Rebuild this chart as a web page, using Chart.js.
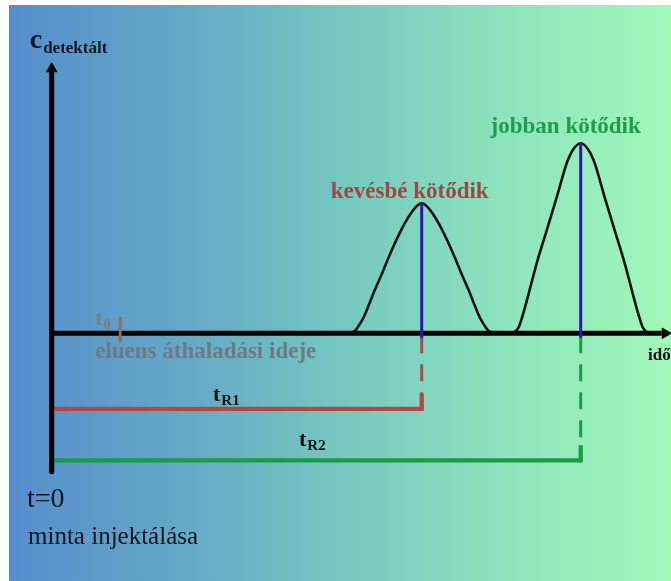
<!DOCTYPE html>
<html>
<head>
<meta charset="utf-8">
<script src="https://cdn.jsdelivr.net/npm/chart.js@4.4.1/dist/chart.umd.min.js"></script>
<style>
  html, body { margin: 0; padding: 0; background: #fff; overflow: hidden; }
  #wrap { position: relative; width: 671px; height: 581px; }
</style>
</head>
<body>
<div id="wrap"><canvas id="kromatogram"></canvas></div>
<script>
// --- adatok ---
const retentionTimes = [7.4, 10.58];     // tR1, tR2
const peakHeights = [2.6, 3.8];
const deadTime = 1.37;                   // t0

// csúcsok: távolság a csúcs közepétől és a jel magassága
const peak1Offsets = [0, 0.14, 0.34, 0.5, 0.66, 0.8, 0.94, 1.06, 1.16, 1.28, 1.36, 1.56];
const peak1Values  = [2.6, 2.5, 2.2, 1.88, 1.52, 1.18, 0.86, 0.56, 0.32, 0.12, 0.03, 0];
const peak2Offsets = [0, 0.16, 0.28, 0.4, 0.48, 0.68, 0.88, 1.06, 1.16, 1.24, 1.32, 1.5];
const peak2Values  = [3.8, 3.66, 3.4, 3.0, 2.72, 2.06, 1.4, 0.72, 0.36, 0.12, 0.03, 0];

const peakLabels = ['kevésbé kötődik', 'jobban kötődik'];
const retentionLabels = ['R1', 'R2'];

// szintek a tengely alatti "zárójelekhez"
const bracketLevels = [-1.51, -2.54];

const RED = 'rgb(178,72,70)';
const GREEN = 'rgb(24,158,66)';
const BLUE = 'rgb(50,22,170)';

// szimmetrikus csúcs pontjai a középpont körül
function peakPoints(center, offsets, values) {
    const left = offsets.map((o, i) => ({ x: center - o, y: values[i] })).reverse();
    const right = offsets.slice(1).map((o, i) => ({ x: center + o, y: values[i + 1] }));
    return left.concat(right);
}

function lineSet(data, color, width, order, extra) {
    return Object.assign({
        data: data,
        borderColor: color,
        borderWidth: width,
        pointRadius: 0,
        fill: false,
        tension: 0,
        order: order
    }, extra || {});
}

const datasets = [
    // tengelyek
    lineSet([{ x: 0, y: -2.77 }, { x: 0, y: 5.2 }], '#000', 5, 0, { borderCapStyle: 'round' }),
    lineSet([{ x: 0, y: 0 }, { x: 12.2, y: 0 }], '#000', 5, 0),
    // nyilak
    { data: [{ x: 0, y: 5.29 }], showLine: false, pointStyle: 'triangle', pointRadius: 6, pointRotation: 0,
      pointBackgroundColor: '#000', pointBorderColor: '#000', pointBorderWidth: 1, order: 0 },
    { data: [{ x: 12.27, y: 0 }], showLine: false, pointStyle: 'triangle', pointRadius: 6, pointRotation: 90,
      pointBackgroundColor: '#000', pointBorderColor: '#000', pointBorderWidth: 1, order: 0 },
    // csúcsok
    lineSet(peakPoints(retentionTimes[0], peak1Offsets, peak1Values), '#111', 2.6, 2, { cubicInterpolationMode: 'monotone' }),
    lineSet(peakPoints(retentionTimes[1], peak2Offsets, peak2Values), '#111', 2.6, 2, { cubicInterpolationMode: 'monotone' }),
    // t0 jel
    lineSet([{ x: deadTime, y: 0.33 }, { x: deadTime, y: -0.19 }], 'rgb(140,112,104)', 3, -1)
];

// retenciós idők: kék függőleges, szaggatott, vízszintes
retentionTimes.forEach((tr, i) => {
    const col = i === 0 ? RED : GREEN;
    const lvl = bracketLevels[i];
    datasets.push(lineSet([{ x: tr, y: peakHeights[i] }, { x: tr, y: -0.09 }], BLUE, 3, -2));
    datasets.push(lineSet([{ x: tr, y: -0.06 }, { x: tr, y: lvl }], col, 3, 3, { borderDash: [17, 11] }));
    datasets.push(lineSet([{ x: 0, y: lvl }, { x: tr, y: lvl }, { x: tr, y: lvl + 0.3 }], col, 4.3, 3));
});

const bgPlugin = {
    id: 'bg',
    beforeDraw(chart) {
        const ctx = chart.ctx;
        const w = chart.width, h = chart.height;
        ctx.save();
        ctx.fillStyle = '#fff';
        ctx.fillRect(0, 0, w, h);
        const g = ctx.createLinearGradient(9, 0, w, 0);
        g.addColorStop(0, '#568dcc');
        g.addColorStop(0.3, '#66adc6');
        g.addColorStop(0.5, '#74c8c0');
        g.addColorStop(0.75, '#8de4bd');
        g.addColorStop(1, '#a1f9b9');
        ctx.fillStyle = g;
        ctx.fillRect(9, 5, w - 9, h - 5);
        ctx.restore();
    }
};

const SERIF = '"Liberation Serif", "DejaVu Serif", serif';

function subText(ctx, main, sub, x, y, size, subSize, color) {
    ctx.fillStyle = color;
    ctx.textAlign = 'left';
    ctx.textBaseline = 'alphabetic';
    ctx.font = 'bold ' + size + 'px ' + SERIF;
    ctx.fillText(main, x, y);
    const w = ctx.measureText(main).width;
    ctx.font = 'bold ' + subSize + 'px ' + SERIF;
    ctx.fillText(sub, x + w + 1, y + size * 0.18);
}

const textPlugin = {
    id: 'szovegek',
    afterDatasetsDraw(chart) {
        const ctx = chart.ctx;
        const xs = chart.scales.x, ys = chart.scales.y;
        const x0 = xs.getPixelForValue(0), y0 = ys.getPixelForValue(0);
        ctx.save();

        // y tengely felirat
        subText(ctx, 'c', 'detektált', x0 - 22, 48, 28, 17, '#101828');

        // t0
        const t0px = xs.getPixelForValue(deadTime);
        subText(ctx, 't', '0', t0px - 25, y0 - 8, 21, 15, 'rgb(120,126,136)');
        ctx.font = 'bold 23px ' + SERIF;
        ctx.fillStyle = 'rgb(112,120,134)';
        ctx.textBaseline = 'middle';
        ctx.fillText('eluens áthaladási ideje', t0px - 25, y0 + 19);

        // csúcs feliratok
        ctx.textAlign = 'center';
        ctx.textBaseline = 'middle';
        ctx.font = 'bold 23px ' + SERIF;
        ctx.fillStyle = 'rgb(160,70,70)';
        ctx.fillText(peakLabels[0], xs.getPixelForValue(retentionTimes[0]) - 12, ys.getPixelForValue(peakHeights[0]) - 11);
        ctx.fillStyle = 'rgb(28,158,78)';
        ctx.fillText(peakLabels[1], xs.getPixelForValue(retentionTimes[1]) - 15, ys.getPixelForValue(peakHeights[1]) - 16);

        // idő
        ctx.textAlign = 'left';
        ctx.font = 'bold 17px ' + SERIF;
        ctx.fillStyle = '#111';
        ctx.fillText('idő', 648, y0 + 22);

        // tR1, tR2
        subText(ctx, 't', retentionLabels[0], 213, ys.getPixelForValue(bracketLevels[0]) - 8, 22, 15, '#111');
        subText(ctx, 't', retentionLabels[1], 299, ys.getPixelForValue(bracketLevels[1]) - 14, 22, 15, '#111');

        // t=0 és minta injektálása
        ctx.textBaseline = 'alphabetic';
        ctx.font = '28px ' + SERIF;
        ctx.fillStyle = '#0e1420';
        ctx.fillText('t=0', 27, 507);
        ctx.font = '25px ' + SERIF;
        ctx.fillText('minta injektálása', 28, 544);

        ctx.restore();
    }
};

new Chart(document.getElementById('kromatogram'), {
    type: 'line',
    data: { datasets: datasets },
    options: {
        responsive: true,
        maintainAspectRatio: false,
        animation: false,
        devicePixelRatio: 1,
        layout: { padding: 0, autoPadding: false },
        plugins: { legend: { display: false }, tooltip: { enabled: false } },
        scales: {
            x: { type: 'linear', display: false, min: -1.034, max: 12.386 },
            y: { type: 'linear', display: false, min: -4.954, max: 6.666 }
        }
    },
    plugins: [bgPlugin, textPlugin]
});
</script>
</body>
</html>
